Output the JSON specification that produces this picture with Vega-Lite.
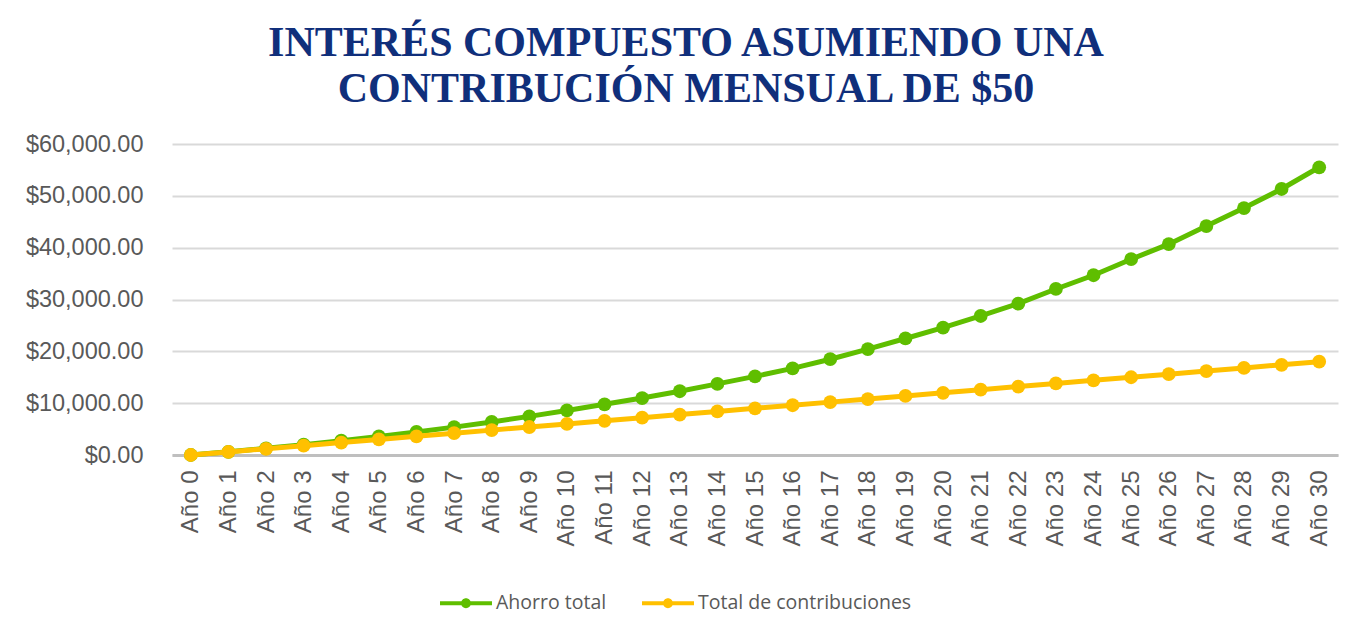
{
  "$schema": "https://vega.github.io/schema/vega-lite/v6.json",
  "width": 1166,
  "height": 311,
  "autosize": {"type": "none"},
  "padding": {"left": 172, "top": 144, "right": 31, "bottom": 165},
  "background": "white",
  "title": {
    "text": ["INTERÉS COMPUESTO ASUMIENDO UNA", "CONTRIBUCIÓN MENSUAL DE $50"],
    "font": "Liberation Serif",
    "fontSize": 42,
    "fontWeight": "bold",
    "color": "#102F7B",
    "lineHeight": 46,
    "anchor": "middle",
    "frame": "group",
    "dx": -69,
    "offset": 21
  },
  "config": {
    "view": {"stroke": null},
    "legend": {"symbolStrokeWidth": 0}
  },
  "data": {
    "values": [
      {"anio": "Año 0", "serie": "Ahorro total", "valor": 0},
      {"anio": "Año 1", "serie": "Ahorro total", "valor": 620},
      {"anio": "Año 2", "serie": "Ahorro total", "valor": 1290},
      {"anio": "Año 3", "serie": "Ahorro total", "valor": 2000},
      {"anio": "Año 4", "serie": "Ahorro total", "valor": 2760},
      {"anio": "Año 5", "serie": "Ahorro total", "valor": 3580},
      {"anio": "Año 6", "serie": "Ahorro total", "valor": 4450},
      {"anio": "Año 7", "serie": "Ahorro total", "valor": 5380},
      {"anio": "Año 8", "serie": "Ahorro total", "valor": 6380},
      {"anio": "Año 9", "serie": "Ahorro total", "valor": 7450},
      {"anio": "Año 10", "serie": "Ahorro total", "valor": 8600},
      {"anio": "Año 11", "serie": "Ahorro total", "valor": 9780},
      {"anio": "Año 12", "serie": "Ahorro total", "valor": 10980},
      {"anio": "Año 13", "serie": "Ahorro total", "valor": 12300},
      {"anio": "Año 14", "serie": "Ahorro total", "valor": 13720},
      {"anio": "Año 15", "serie": "Ahorro total", "valor": 15170},
      {"anio": "Año 16", "serie": "Ahorro total", "valor": 16720},
      {"anio": "Año 17", "serie": "Ahorro total", "valor": 18480},
      {"anio": "Año 18", "serie": "Ahorro total", "valor": 20420},
      {"anio": "Año 19", "serie": "Ahorro total", "valor": 22480},
      {"anio": "Año 20", "serie": "Ahorro total", "valor": 24570},
      {"anio": "Año 21", "serie": "Ahorro total", "valor": 26820},
      {"anio": "Año 22", "serie": "Ahorro total", "valor": 29200},
      {"anio": "Año 23", "serie": "Ahorro total", "valor": 32030},
      {"anio": "Año 24", "serie": "Ahorro total", "valor": 34680},
      {"anio": "Año 25", "serie": "Ahorro total", "valor": 37770},
      {"anio": "Año 26", "serie": "Ahorro total", "valor": 40680},
      {"anio": "Año 27", "serie": "Ahorro total", "valor": 44160},
      {"anio": "Año 28", "serie": "Ahorro total", "valor": 47640},
      {"anio": "Año 29", "serie": "Ahorro total", "valor": 51320},
      {"anio": "Año 30", "serie": "Ahorro total", "valor": 55510},
      {"anio": "Año 0", "serie": "Total de contribuciones", "valor": 0},
      {"anio": "Año 1", "serie": "Total de contribuciones", "valor": 600},
      {"anio": "Año 2", "serie": "Total de contribuciones", "valor": 1200},
      {"anio": "Año 3", "serie": "Total de contribuciones", "valor": 1800},
      {"anio": "Año 4", "serie": "Total de contribuciones", "valor": 2400},
      {"anio": "Año 5", "serie": "Total de contribuciones", "valor": 3000},
      {"anio": "Año 6", "serie": "Total de contribuciones", "valor": 3600},
      {"anio": "Año 7", "serie": "Total de contribuciones", "valor": 4200},
      {"anio": "Año 8", "serie": "Total de contribuciones", "valor": 4800},
      {"anio": "Año 9", "serie": "Total de contribuciones", "valor": 5400},
      {"anio": "Año 10", "serie": "Total de contribuciones", "valor": 6000},
      {"anio": "Año 11", "serie": "Total de contribuciones", "valor": 6600},
      {"anio": "Año 12", "serie": "Total de contribuciones", "valor": 7200},
      {"anio": "Año 13", "serie": "Total de contribuciones", "valor": 7800},
      {"anio": "Año 14", "serie": "Total de contribuciones", "valor": 8400},
      {"anio": "Año 15", "serie": "Total de contribuciones", "valor": 9000},
      {"anio": "Año 16", "serie": "Total de contribuciones", "valor": 9600},
      {"anio": "Año 17", "serie": "Total de contribuciones", "valor": 10200},
      {"anio": "Año 18", "serie": "Total de contribuciones", "valor": 10800},
      {"anio": "Año 19", "serie": "Total de contribuciones", "valor": 11400},
      {"anio": "Año 20", "serie": "Total de contribuciones", "valor": 12000},
      {"anio": "Año 21", "serie": "Total de contribuciones", "valor": 12600},
      {"anio": "Año 22", "serie": "Total de contribuciones", "valor": 13200},
      {"anio": "Año 23", "serie": "Total de contribuciones", "valor": 13800},
      {"anio": "Año 24", "serie": "Total de contribuciones", "valor": 14400},
      {"anio": "Año 25", "serie": "Total de contribuciones", "valor": 15000},
      {"anio": "Año 26", "serie": "Total de contribuciones", "valor": 15600},
      {"anio": "Año 27", "serie": "Total de contribuciones", "valor": 16200},
      {"anio": "Año 28", "serie": "Total de contribuciones", "valor": 16800},
      {"anio": "Año 29", "serie": "Total de contribuciones", "valor": 17400},
      {"anio": "Año 30", "serie": "Total de contribuciones", "valor": 18000}
    ]
  },
  "encoding": {
    "x": {
      "field": "anio",
      "type": "ordinal",
      "sort": null,
      "scale": {"type": "point", "padding": 0.5},
      "axis": {
        "title": null,
        "labelAngle": -90,
        "labelFont": "Liberation Sans",
        "labelFontSize": 24,
        "labelColor": "#595959",
        "labelPadding": 15,
        "ticks": false,
        "domainColor": "#BFBFBF",
        "domainWidth": 3,
        "grid": false
      }
    },
    "y": {
      "field": "valor",
      "type": "quantitative",
      "scale": {"domain": [0, 60000], "nice": false},
      "axis": {
        "title": null,
        "format": "$,.2f",
        "values": [0, 10000, 20000, 30000, 40000, 50000, 60000],
        "labelFont": "Liberation Sans",
        "labelFontSize": 23.5,
        "labelColor": "#595959",
        "labelPadding": 29,
        "ticks": false,
        "domain": false,
        "gridColor": "#D9D9D9",
        "gridWidth": 2
      }
    },
    "color": {
      "field": "serie",
      "type": "nominal",
      "scale": {
        "domain": ["Ahorro total", "Total de contribuciones"],
        "range": ["#5FBE00", "#FFC000"]
      },
      "legend": {
        "title": null,
        "orient": "none",
        "legendX": 268,
        "legendY": 433,
        "direction": "horizontal",
        "labelFont": "Open Sans",
        "labelFontSize": 19.5,
        "labelColor": "#595959",
        "labelOffset": 4,
        "labelLimit": 400,
        "columnPadding": 35,
        "symbolType": "M-1,-0.077L1,-0.077L1,0.077L-1,0.077Z M0.19,0A0.19,0.19 0 1,1 -0.19,0A0.19,0.19 0 1,1 0.19,0Z",
        "symbolSize": 2704,
        "symbolStrokeWidth": 0
      }
    }
  },
  "layer": [
    {
      "transform": [{"filter": "datum.serie === 'Ahorro total'"}],
      "mark": {"type": "point", "filled": true, "size": 190, "opacity": 1}
    },
    {
      "transform": [{"filter": "datum.serie === 'Ahorro total'"}],
      "mark": {"type": "line", "strokeWidth": 5}
    },
    {
      "transform": [{"filter": "datum.serie === 'Total de contribuciones'"}],
      "mark": {"type": "point", "filled": true, "size": 190, "opacity": 1}
    },
    {
      "transform": [{"filter": "datum.serie === 'Total de contribuciones'"}],
      "mark": {"type": "line", "strokeWidth": 5}
    }
  ]
}
